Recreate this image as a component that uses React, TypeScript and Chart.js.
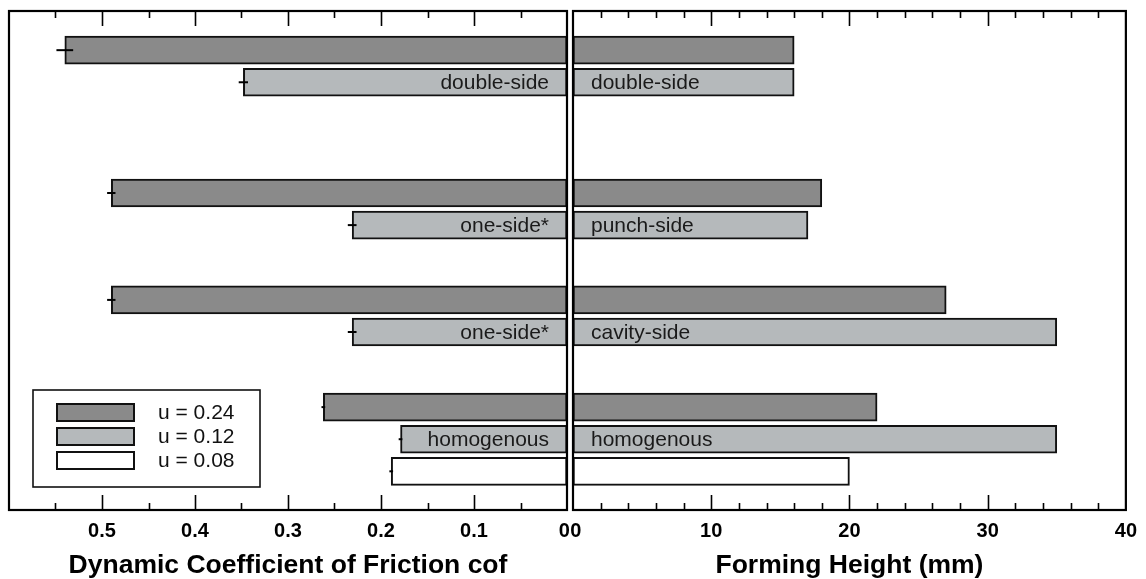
import React, { useEffect, useRef } from "react";
import { Chart, registerables } from "chart.js";

Chart.register(...registerables);

// ---------- data ----------
const leftCategories = ["double-side", "one-side*", "one-side*", "homogenous"];
const rightCategories = ["double-side", "punch-side", "cavity-side", "homogenous"];
const seriesLabels = ["u = 0.24", "u = 0.12", "u = 0.08"];

// row positions (category slots on the vertical axis, in row units)
const groupCenters = [1.72, 6.17, 9.5, 12.84];
const seriesOffsets = [-0.5, 0.5, 1.5];

// Dynamic coefficient of friction
const cof024 = [0.54, 0.49, 0.49, 0.262];
const cof012 = [0.348, 0.231, 0.231, 0.179];
const cof008 = [null, null, null, 0.189];
const cofErr024 = [0.009, 0.0045, 0.0045, 0.002];
const cofErr012 = [0.005, 0.0047, 0.0047, 0.002];
const cofErr008 = [null, null, null, 0.002];

// Forming height (mm)
const height024 = [16, 18, 27, 22];
const height012 = [16, 17, 35, 35];
const height008 = [null, null, null, 20];

const cofAxis = { min: 0, max: 0.6, major: 0.1, minor: 0.05 };
const heightAxis = { min: 0, max: 40, major: 10, minor: 2 };

const fills = ["#8a8a8a", "#b5b9bb", "#ffffff"];
const FONT = "'Liberation Sans', Arial, Helvetica, sans-serif";

Chart.defaults.font.family = FONT;

type Pt = { x: number; y: number; err: number | null; cat: number };

function buildDatasets(series: (number | null)[][], errs: (number | null)[][] | null) {
  return series.map((vals, s) => {
    const pts: Pt[] = [];
    vals.forEach((v, i) => {
      if (v == null) return;
      pts.push({ x: v, y: groupCenters[i] + seriesOffsets[s], err: errs ? errs[s][i] : null, cat: i });
    });
    return {
      label: seriesLabels[s],
      data: pts as any,
      backgroundColor: fills[s],
      borderColor: "#111",
      borderWidth: 2,
      borderSkipped: false as any,
      barThickness: 28,
      grouped: false,
    };
  });
}

const framePlugin = {
  id: "frameTicks",
  afterDatasetsDraw(chart: any) {
    const ax = chart.options.plugins.frameTicks;
    const { ctx, chartArea } = chart;
    const { left, right, top, bottom } = chartArea;
    const xs = chart.scales.x;
    ctx.save();
    ctx.strokeStyle = "#000";
    const n = Math.round((ax.max - ax.min) / ax.minor);
    const ratio = Math.round(ax.major / ax.minor);
    ctx.lineWidth = 1.6;
    for (let k = 1; k < n; k++) {
      const v = ax.min + k * ax.minor;
      const px = Math.round(xs.getPixelForValue(v)) + 0.5;
      const len = k % ratio === 0 ? 15 : 7;
      ctx.beginPath();
      ctx.moveTo(px, top);
      ctx.lineTo(px, top + len);
      ctx.moveTo(px, bottom);
      ctx.lineTo(px, bottom - len);
      ctx.stroke();
    }
    ctx.lineWidth = 2.2;
    ctx.strokeRect(left, top, right - left, bottom - top);
    ctx.restore();
  },
};

const errorPlugin = {
  id: "errBars",
  afterDatasetsDraw(chart: any) {
    const { ctx } = chart;
    const xs = chart.scales.x;
    ctx.save();
    ctx.strokeStyle = "#000";
    ctx.lineWidth = 2;
    chart.data.datasets.forEach((ds: any, di: number) => {
      const meta = chart.getDatasetMeta(di);
      ds.data.forEach((p: Pt, i: number) => {
        if (p.err == null) return;
        const el = meta.data[i];
        ctx.beginPath();
        ctx.moveTo(xs.getPixelForValue(p.x - p.err), el.y);
        ctx.lineTo(xs.getPixelForValue(p.x + p.err), el.y);
        ctx.stroke();
      });
    });
    ctx.restore();
  },
};

const barLabelPlugin = {
  id: "barLabels",
  afterDatasetsDraw(chart: any) {
    const opt = chart.options.plugins.barLabels;
    const { ctx } = chart;
    const xs = chart.scales.x;
    const meta = chart.getDatasetMeta(1);
    const ds = chart.data.datasets[1];
    const x0 = xs.getPixelForValue(0);
    ctx.save();
    ctx.fillStyle = "#1a1a1a";
    ctx.font = `21px ${FONT}`;
    ctx.textBaseline = "middle";
    ctx.textAlign = opt.side === "left" ? "right" : "left";
    ds.data.forEach((p: Pt, i: number) => {
      const el = meta.data[i];
      const tx = opt.side === "left" ? x0 - 18 : x0 + 18;
      ctx.fillText(opt.labels[p.cat], tx, el.y + 1);
    });
    ctx.restore();
  },
};

const boxLegendPlugin = {
  id: "boxLegend",
  afterDatasetsDraw(chart: any) {
    const opt = chart.options.plugins.boxLegend;
    if (!opt || !opt.show) return;
    const { ctx, chartArea } = chart;
    const bx = chartArea.left + 24;
    const by = chartArea.bottom - 120;
    const bw = 227;
    const bh = 97;
    ctx.save();
    ctx.fillStyle = "#fff";
    ctx.fillRect(bx, by, bw, bh);
    ctx.strokeStyle = "#111";
    ctx.lineWidth = 1.6;
    ctx.strokeRect(bx, by, bw, bh);
    ctx.font = `21px ${FONT}`;
    ctx.textBaseline = "middle";
    ctx.textAlign = "left";
    chart.data.datasets.forEach((ds: any, i: number) => {
      const sy = by + 14 + i * 24;
      ctx.fillStyle = ds.backgroundColor;
      ctx.fillRect(bx + 24, sy, 77, 17);
      ctx.lineWidth = 2;
      ctx.strokeStyle = "#111";
      ctx.strokeRect(bx + 24, sy, 77, 17);
      ctx.fillStyle = "#111";
      ctx.fillText(ds.label, bx + 125, sy + 9.5);
    });
    ctx.restore();
  },
};

function buildConfig(p: {
  datasets: any[];
  axis: typeof cofAxis;
  reverse: boolean;
  title: string;
  tickFmt: (v: number) => string;
  padding: any;
  side: "left" | "right";
  labels: string[];
  legend: boolean;
}): any {
  return {
    type: "bar",
    data: { datasets: p.datasets },
    plugins: [framePlugin, errorPlugin, barLabelPlugin, boxLegendPlugin],
    options: {
      indexAxis: "y",
      responsive: false,
      animation: false,
      devicePixelRatio: 1,
      layout: { padding: p.padding },
      plugins: {
        legend: { display: false },
        tooltip: { enabled: false },
        frameTicks: p.axis,
        barLabels: { side: p.side, labels: p.labels },
        boxLegend: { show: p.legend },
      },
      scales: {
        x: {
          type: "linear",
          min: p.axis.min,
          max: p.axis.max,
          reverse: p.reverse,
          grid: { display: false, drawTicks: false },
          border: { display: false },
          ticks: {
            stepSize: p.axis.major,
            padding: 9,
            color: "#000",
            autoSkip: false,
            maxRotation: 0,
            font: { size: 20, weight: "bold", family: FONT },
            callback: (v: any) => p.tickFmt(Number(v)),
          },
          title: {
            display: true,
            text: p.title,
            color: "#000",
            font: { size: 26.5, weight: "bold", family: FONT, lineHeight: 1.0 },
            padding: { top: 0, bottom: 0 },
          },
          afterFit: (s: any) => {
            s.height = 69;
          },
        },
        y: {
          type: "linear",
          min: 0,
          max: 15.545,
          reverse: true,
          offset: false,
          display: false,
        },
      },
    },
  };
}

export default function App() {
  const leftRef = useRef<HTMLCanvasElement>(null);
  const rightRef = useRef<HTMLCanvasElement>(null);

  useEffect(() => {
    const left = new Chart(
      leftRef.current as HTMLCanvasElement,
      buildConfig({
        datasets: buildDatasets([cof024, cof012, cof008], [cofErr024, cofErr012, cofErr008]),
        axis: cofAxis,
        reverse: true,
        title: "Dynamic Coefficient of Friction cof",
        tickFmt: (v) => (Math.abs(v) < 1e-9 ? "0 " : Math.abs(v - cofAxis.max) < 1e-9 ? "" : v.toFixed(1)),
        padding: { left: 8, right: 33, top: 11, bottom: 0 },
        side: "left",
        labels: leftCategories,
        legend: true,
      })
    );
    const right = new Chart(
      rightRef.current as HTMLCanvasElement,
      buildConfig({
        datasets: buildDatasets([height024, height012, height008], null),
        axis: heightAxis,
        reverse: false,
        title: "Forming Height (mm)",
        tickFmt: (v) => (Math.abs(v) < 1e-9 ? " 0" : String(Math.round(v))),
        padding: { left: 27, right: 16, top: 11, bottom: 0 },
        side: "right",
        labels: rightCategories,
        legend: false,
      })
    );
    return () => {
      left.destroy();
      right.destroy();
    };
  }, []);

  return (
    <div style={{ position: "absolute", left: 0, top: 0, width: 1146, height: 579, background: "#fff" }}>
      <canvas ref={leftRef} width={600} height={579} style={{ position: "absolute", left: 0, top: 0 }} />
      <canvas ref={rightRef} width={600} height={579} style={{ position: "absolute", left: 546, top: 0 }} />
    </div>
  );
}
